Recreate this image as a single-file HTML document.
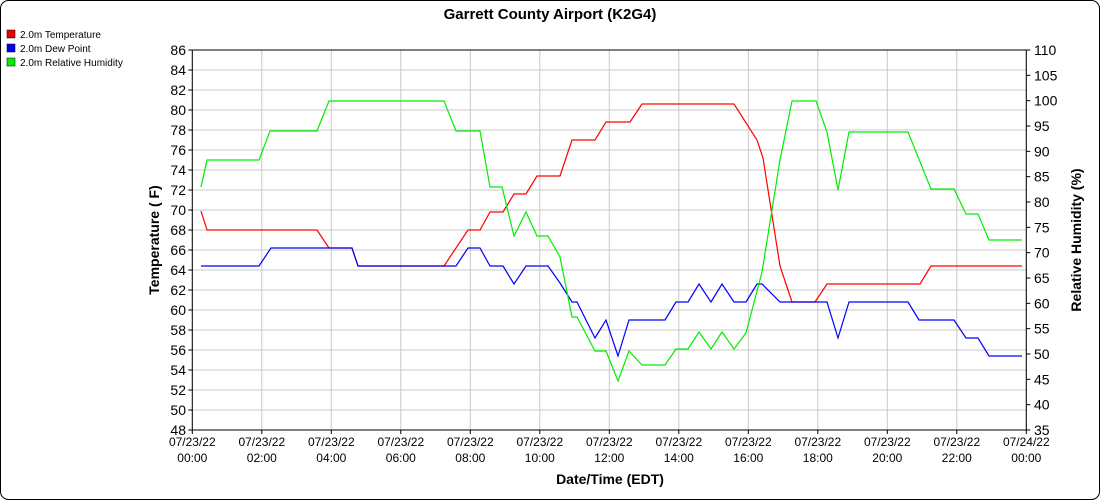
<!DOCTYPE html>
<html><head><meta charset="utf-8"><style>
html,body{margin:0;padding:0;background:#fff;}
svg{display:block;font-family:"Liberation Sans",sans-serif;}
</style></head><body>
<svg width="1100" height="500" viewBox="0 0 1100 500">
<rect x="0.5" y="0.5" width="1099" height="499" rx="8" fill="#fff" stroke="#000"/>
<text x="550" y="19" text-anchor="middle" font-size="15" font-weight="bold">Garrett County Airport (K2G4)</text>
<g font-size="10">
<rect x="7" y="30" width="8" height="8" fill="#e00" stroke="#000" stroke-width="0.5"/><text x="20" y="38">2.0m Temperature</text>
<rect x="7" y="44" width="8" height="8" fill="#00e" stroke="#000" stroke-width="0.5"/><text x="20" y="52">2.0m Dew Point</text>
<rect x="7" y="58" width="8" height="8" fill="#0e0" stroke="#000" stroke-width="0.5"/><text x="20" y="66">2.0m Relative Humidity</text>
</g>
<g stroke="#c8c8c8" stroke-width="1" id="grid"></g>
<g id="ax"></g>
<polyline fill="none" stroke="#ff0000" stroke-width="1.2" points="201,211 207,230 317,230 329,248 352,248 358,266 444,266 468,230 480,230 490,212 503,212 514,194 526,194 537,176 560,176 572,140 595,140 606,122 630,122 642,104 734,104 757,140 763,158 780,266 792,302 815,302 827,284 920,284 931,266 1022,266"/>
<polyline fill="none" stroke="#0000ff" stroke-width="1.2" points="201,266 259,266 271,248 352,248 358,266 456,266 468,248 480,248 490,266 503,266 514,284 526,266 548,266 560,283 572,302 577,302 595,338 606,320 618,356 629,320 665,320 676,302 688,302 699,284 711,302 722,284 734,302 746,302 757,284 762,284 780,302 827,302 838,338 849,302 908,302 919,320 954,320 966,338 978,338 989,356 1022,356"/>
<polyline fill="none" stroke="#00ee00" stroke-width="1.2" points="201,187 207,160 259,160 270,131 317,131 329,101 444,101 456,131 480,131 490,187 502,187 514,236 526,212 537,236 548,236 560,257 572,317 577,317 595,351 606,351 618,381 629,351 642,365 665,365 676,349 688,349 699,332 711,349 722,332 734,349 746,333 762,272 780,160 792,101 816,101 827,132 838,190 849,132 908,132 931,189 954,189 966,214 978,214 989,240 1022,240"/>
<text transform="translate(159,240) rotate(-90)" text-anchor="middle" font-size="14" font-weight="bold">Temperature ( F)</text>
<text transform="translate(1081,240) rotate(-90)" text-anchor="middle" font-size="14" font-weight="bold">Relative Humidity (%)</text>
<text x="610" y="484" text-anchor="middle" font-size="14" font-weight="bold">Date/Time (EDT)</text>
<script>
(function(){
var ns="http://www.w3.org/2000/svg",g=document.getElementById('grid'),a=document.getElementById('ax');
function el(p,t,at,tx){var e=document.createElementNS(ns,t);for(var k in at)e.setAttribute(k,at[k]);if(tx!=null)e.textContent=tx;p.appendChild(e);return e;}
var L=192.3,R=1026.3,T=50,B=430;
for(var i=0;i<20;i++){var y=T+i*20;el(g,'line',{x1:L,x2:R,y1:y,y2:y});
el(a,'text',{x:186,y:y+5,'text-anchor':'end','font-size':14},86-2*i);
el(a,'line',{x1:L-4,x2:L,y1:y,y2:y,stroke:'#000'});}
for(var j=0;j<=15;j++){var y2=T+j*380/15;el(a,'text',{x:1034,y:y2+5,'font-size':14},110-5*j);
el(a,'line',{x1:R,x2:R+4,y1:y2,y2:y2,stroke:'#000'});}
for(var h=0;h<=12;h++){var x=L+h*69.5;el(g,'line',{x1:x,x2:x,y1:T,y2:B});
el(a,'line',{x1:x,x2:x,y1:B,y2:B+4,stroke:'#000'});
el(a,'text',{x:x,y:446,'text-anchor':'middle','font-size':12},h==12?'07/24/22':'07/23/22');
var hh=(h*2)%24;el(a,'text',{x:x,y:462,'text-anchor':'middle','font-size':12},(hh<10?'0':'')+hh+':00');}
el(a,'line',{x1:L,x2:L,y1:T,y2:B,stroke:'#000'});
el(a,'line',{x1:R,x2:R,y1:T,y2:B,stroke:'#000'});
el(a,'line',{x1:L,x2:R,y1:T,y2:T,stroke:'#000'});
el(a,'line',{x1:L,x2:R,y1:B,y2:B,stroke:'#000'});
})();
</script>
</svg>
</body></html>
